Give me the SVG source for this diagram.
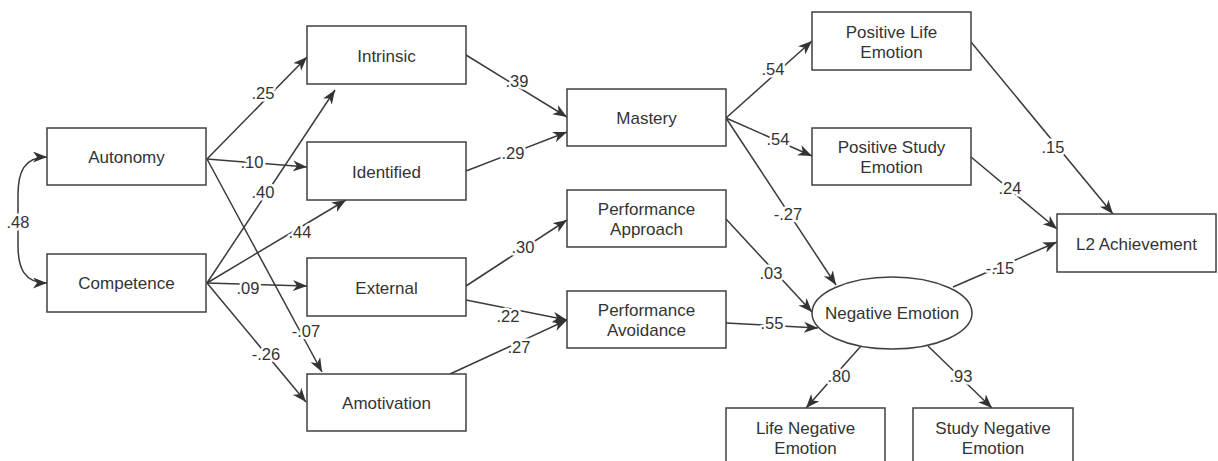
<svg xmlns="http://www.w3.org/2000/svg" width="1218" height="461" viewBox="0 0 1218 461">
  <style>
    .box { fill: #ffffff; stroke: #404040; stroke-width: 1.5; }
    .node-text { font-family: "Liberation Sans", Arial, Helvetica, sans-serif; font-size: 17px; fill: #333333; text-anchor: middle; }
    .edge { fill: none; stroke: #3a3a3a; stroke-width: 1.5; marker-end: url(#arrow); }
    .coef { font-family: "Liberation Sans", Arial, Helvetica, sans-serif; font-size: 16.5px; fill: #333333; text-anchor: middle; stroke: #ffffff; stroke-width: 5; stroke-linejoin: round; paint-order: stroke; }
  </style>
  <defs>
    <marker id="arrow" markerUnits="userSpaceOnUse" markerWidth="15" markerHeight="12" refX="14" refY="5.5" orient="auto-start-reverse">
      <path d="M0,0 L14,5.5 L0,11 L4,5.5 z" fill="#333333"/>
    </marker>
  </defs>
  <rect width="1218" height="461" fill="#ffffff"/>

  <!-- paths between variables -->
  <g id="connectors">
    <path class="edge" d="M47,157 C24,157 18,172 18,195 L18,245 C18,268 24,283 47,283" marker-start="url(#arrow)"/>
    <path class="edge" d="M207,159 L307,57"/>
    <path class="edge" d="M207,159 L307,167"/>
    <path class="edge" d="M207,159 L322,372"/>
    <path class="edge" d="M207,283 L335,90"/>
    <path class="edge" d="M207,283 L346,200"/>
    <path class="edge" d="M207,283 L307,286"/>
    <path class="edge" d="M207,283 L306,402"/>
    <path class="edge" d="M466,55 L567,117"/>
    <path class="edge" d="M466,171 L567,132"/>
    <path class="edge" d="M466,286 L567,220"/>
    <path class="edge" d="M466,300 L567,320"/>
    <path class="edge" d="M450,374 L567,320"/>
    <path class="edge" d="M726,118 L812,41"/>
    <path class="edge" d="M726,118 L812,156"/>
    <path class="edge" d="M726,118 L836,285"/>
    <path class="edge" d="M726,219 L812,312"/>
    <path class="edge" d="M726,323 L818,328"/>
    <path class="edge" d="M953,287 L1057,242"/>
    <path class="edge" d="M971,42 L1113,214"/>
    <path class="edge" d="M971,157 L1057,229"/>
    <path class="edge" d="M861,346 L806,408"/>
    <path class="edge" d="M928,346 L992,408"/>

    <text class="coef" x="18" y="228">.48</text>
    <text class="coef" x="263" y="99">.25</text>
    <text class="coef" x="252" y="168">.10</text>
    <text class="coef" x="263" y="198">.40</text>
    <text class="coef" x="300" y="238">.44</text>
    <text class="coef" x="248" y="294">.09</text>
    <text class="coef" x="306" y="337">-.07</text>
    <text class="coef" x="266" y="360">-.26</text>
    <text class="coef" x="517" y="87">.39</text>
    <text class="coef" x="513" y="159">.29</text>
    <text class="coef" x="523" y="253">.30</text>
    <text class="coef" x="508" y="322">.22</text>
    <text class="coef" x="519" y="353">.27</text>
    <text class="coef" x="773" y="75">.54</text>
    <text class="coef" x="778" y="145">.54</text>
    <text class="coef" x="788" y="220">-.27</text>
    <text class="coef" x="771" y="279">.03</text>
    <text class="coef" x="1053" y="153">.15</text>
    <text class="coef" x="1010" y="194">.24</text>
    <text class="coef" x="1000" y="274">-.15</text>
    <text class="coef" x="772" y="329">.55</text>
    <text class="coef" x="839" y="382">.80</text>
    <text class="coef" x="961" y="382">.93</text>
  </g>

  <g id="autonomy">
    <rect class="box" x="47" y="128" width="159" height="57"/>
    <text class="node-text" x="126.5" y="163">Autonomy</text>
  </g>
  <g id="competence">
    <rect class="box" x="47" y="254" width="159" height="58"/>
    <text class="node-text" x="126.5" y="289">Competence</text>
  </g>
  <g id="intrinsic">
    <rect class="box" x="307" y="26" width="159" height="58"/>
    <text class="node-text" x="386.5" y="62">Intrinsic</text>
  </g>
  <g id="identified">
    <rect class="box" x="307" y="142" width="159" height="58"/>
    <text class="node-text" x="386.5" y="178">Identified</text>
  </g>
  <g id="external">
    <rect class="box" x="307" y="258" width="159" height="58"/>
    <text class="node-text" x="386.5" y="294">External</text>
  </g>
  <g id="amotivation">
    <rect class="box" x="307" y="374" width="159" height="57"/>
    <text class="node-text" x="386.5" y="409">Amotivation</text>
  </g>
  <g id="mastery">
    <rect class="box" x="567" y="89" width="159" height="57"/>
    <text class="node-text" x="646.5" y="124">Mastery</text>
  </g>
  <g id="performance-approach">
    <rect class="box" x="567" y="190" width="159" height="57"/>
    <text class="node-text" x="646.5" y="215">Performance</text>
    <text class="node-text" x="646.5" y="235">Approach</text>
  </g>
  <g id="performance-avoidance">
    <rect class="box" x="567" y="291" width="159" height="57"/>
    <text class="node-text" x="646.5" y="316">Performance</text>
    <text class="node-text" x="646.5" y="336">Avoidance</text>
  </g>
  <g id="positive-life-emotion">
    <rect class="box" x="812" y="12" width="159" height="58"/>
    <text class="node-text" x="891.5" y="38">Positive Life</text>
    <text class="node-text" x="891.5" y="58">Emotion</text>
  </g>
  <g id="positive-study-emotion">
    <rect class="box" x="812" y="128" width="159" height="57"/>
    <text class="node-text" x="891.5" y="153">Positive Study</text>
    <text class="node-text" x="891.5" y="173">Emotion</text>
  </g>
  <g id="negative-emotion">
    <ellipse class="box" cx="892" cy="313" rx="80" ry="36"/>
    <text class="node-text" x="892" y="319">Negative Emotion</text>
  </g>
  <g id="l2-achievement">
    <rect class="box" x="1057" y="214" width="159" height="58"/>
    <text class="node-text" x="1136.5" y="250">L2 Achievement</text>
  </g>
  <g id="life-negative-emotion">
    <rect class="box" x="726" y="408" width="159" height="60"/>
    <text class="node-text" x="805.5" y="434">Life Negative</text>
    <text class="node-text" x="805.5" y="454">Emotion</text>
  </g>
  <g id="study-negative-emotion">
    <rect class="box" x="913" y="408" width="160" height="60"/>
    <text class="node-text" x="993" y="434">Study Negative</text>
    <text class="node-text" x="993" y="454">Emotion</text>
  </g>
</svg>
